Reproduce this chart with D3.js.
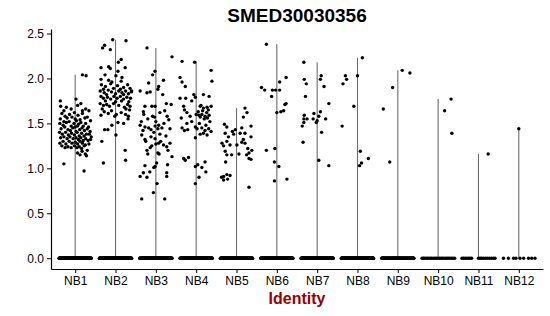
<!DOCTYPE html>
<html>
<head>
<meta charset="utf-8">
<script src="https://cdn.jsdelivr.net/npm/d3@7"></script>
<style>
  body { margin: 0; background: #fff; }
  text { font-family: "Liberation Sans", Arial, sans-serif; }
</style>
</head>
<body>
<script>
var width = 550;
var height = 316;

var title = "SMED30030356";
var xLabel = "Identity";
var categories = ["NB1", "NB2", "NB3", "NB4", "NB5", "NB6", "NB7", "NB8", "NB9", "NB10", "NB11", "NB12"];
var yTicks = [0, 0.5, 1, 1.5, 2, 2.5];

// expressing cells: [jitter (fraction of a category step), expression]
var nb1 = [
    [0.18,2.04],[0.27,2.03],[0.02,1.77],[-0.37,1.75],[-0.36,1.69],[-0.22,1.68],[-0.1,1.66],[0.06,1.7],
    [0.14,1.72],[0.26,1.66],[0.34,1.64],[-0.28,1.64],[0.18,1.64],
    [-0.33,1.61],[-0.25,1.58],[-0.14,1.60],[-0.02,1.62],[0.07,1.59],[0.18,1.61],[0.3,1.57],[-0.37,1.55],
    [-0.2,1.56],[-0.08,1.57],[0.12,1.54],[0.24,1.56],[0.38,1.53],[0.0,1.55],[-0.28,1.52],
    [-0.38,1.50],[-0.3,1.48],[-0.22,1.51],[-0.15,1.52],[-0.1,1.47],[-0.03,1.50],[0.03,1.53],[0.08,1.49],
    [0.14,1.51],[0.2,1.47],[0.26,1.50],[0.33,1.46],[-0.35,1.44],[-0.26,1.46],[-0.18,1.43],[-0.06,1.45],
    [0.0,1.46],[0.06,1.47],[0.11,1.43],[0.17,1.45],[0.23,1.42],[0.3,1.44],[0.37,1.41],[-0.12,1.42],[0.02,1.41],
    [-0.39,1.40],[-0.32,1.38],[-0.24,1.40],[-0.17,1.37],[-0.09,1.39],[-0.02,1.37],[0.05,1.40],[0.1,1.36],
    [0.16,1.39],[0.22,1.36],[0.28,1.38],[0.35,1.38],[0.4,1.35],[-0.36,1.34],[-0.28,1.35],[-0.2,1.33],
    [-0.13,1.35],[-0.05,1.33],[0.02,1.34],[0.08,1.32],[0.14,1.34],[0.2,1.31],[0.26,1.33],[0.32,1.31],[0.38,1.32],
    [-0.38,1.28],[-0.3,1.30],[-0.23,1.27],[-0.15,1.30],[-0.08,1.28],[0.0,1.29],[0.06,1.27],[0.12,1.30],
    [0.18,1.28],[0.25,1.26],[0.34,1.27],[-0.33,1.25],[-0.18,1.24],[-0.1,1.23],[-0.02,1.25],[0.04,1.23],
    [0.1,1.24],[0.16,1.22],[0.22,1.25],[-0.25,1.23],
    [0.06,1.17],[0.12,1.15],[0.17,1.19],[0.25,1.16],[0.28,1.14],[-0.28,1.05],[0.22,0.97],[0.3,1.2]
];
var nb2 = [
    [-0.07,2.43],[0.26,2.42],[-0.27,2.37],[-0.32,2.34],[-0.13,2.32],[0.14,2.21],[0.07,2.18],[-0.36,2.12],
    [-0.17,2.13],[-0.13,2.11],[0.24,2.12],[0.06,2.08],[-0.26,2.04],[0.01,2.03],[0.16,2.01],[-0.36,1.99],
    [-0.17,1.98],[-0.09,1.96],[0.14,1.97],[0.4,1.86],
    [-0.35,1.93],[-0.25,1.91],[-0.12,1.94],[0.05,1.92],[0.2,1.9],[0.3,1.93],[-0.3,1.88],[-0.05,1.89],[0.12,1.88],[0.36,1.89],
    [-0.38,1.86],[-0.28,1.84],[-0.18,1.87],[-0.1,1.85],[0.0,1.83],[0.08,1.86],[0.16,1.84],[0.25,1.86],
    [0.32,1.83],[0.39,1.85],[-0.22,1.82],[0.2,1.82],
    [-0.36,1.8],[-0.3,1.78],[-0.2,1.79],[-0.12,1.77],[-0.04,1.8],[0.04,1.78],[0.12,1.8],[0.2,1.77],
    [0.28,1.79],[0.37,1.78],[-0.25,1.75],[0.0,1.74],[0.15,1.75],[0.33,1.74],
    [-0.38,1.72],[-0.3,1.7],[-0.22,1.71],[-0.15,1.69],[-0.05,1.72],[0.08,1.7],[0.22,1.68],[0.3,1.71],
    [0.36,1.69],[0.26,1.66],[-0.33,1.66],[0.35,1.65],
    [-0.28,1.63],[-0.18,1.61],[-0.1,1.64],[0.02,1.6],[0.14,1.62],[0.25,1.6],[-0.36,1.59],[0.32,1.58],[-0.02,1.58],
    [0.2,1.50],[0.31,1.55],[0.06,1.51],[-0.27,1.43],[-0.19,1.43],[-0.09,1.48],[0.01,1.37],[-0.34,1.30],
    [0.24,1.20],[-0.3,1.06],[0.25,1.09]
];
var nb3 = [
    [-0.22,2.34],[0.4,2.24],[-0.02,2.08],[-0.08,2.04],[-0.39,1.86],[-0.18,1.95],[0.07,1.91],[0.05,1.88],
    [0.19,1.98],[-0.22,1.84],[-0.14,1.85],[0.17,1.82],[-0.27,1.69],[-0.1,1.69],[-0.02,1.69],[0.26,1.72],
    [0.38,1.71],[-0.31,1.63],[-0.08,1.58],[-0.03,1.57],[0.22,1.64],[-0.36,1.52],[-0.27,1.46],[-0.18,1.45],
    [-0.12,1.43],[-0.02,1.47],[0.07,1.48],[0.15,1.45],[0.32,1.54],[-0.35,1.37],[-0.27,1.32],[-0.12,1.35],
    [-0.02,1.33],[0.07,1.28],[0.19,1.26],[0.27,1.24],[0.35,1.28],[-0.22,1.20],[-0.14,1.23],[0.05,1.17],
    [0.4,1.13],[-0.27,1.03],[-0.02,1.02],[-0.31,0.95],[-0.39,0.91],[-0.22,0.90],[0.27,0.95],[0.27,0.91],
    [-0.06,0.73],[-0.35,0.66],[0.22,0.66],[-0.15,0.96],[0.02,1.06],[0.03,0.83],[0.29,1.04],[0.08,1.16],
    [-0.2,1.16],[-0.05,1.01],[-0.39,1.48],
    [-0.3,1.6],[0.1,1.62],[0.28,1.58],[-0.2,1.55],[0.0,1.52],[0.2,1.5],[0.35,1.44],[-0.05,1.4],[0.1,1.38],
    [0.25,1.36],[-0.25,1.3],[0.0,1.27],[0.3,1.2],[-0.1,1.25],[0.12,1.3],[-0.32,1.42],[0.05,1.44]
];
var nb4 = [
    [-0.35,2.19],[-0.04,2.18],[0.37,2.09],[-0.4,2.01],[0.39,1.97],[-0.35,1.96],[-0.27,1.91],[-0.4,1.78],
    [-0.26,1.78],[-0.11,1.75],[-0.02,1.79],[-0.06,1.82],[0.18,1.82],[0.32,1.80],[-0.31,1.69],[-0.29,1.65],
    [0.1,1.69],[0.18,1.67],[0.27,1.68],[0.37,1.69],[-0.37,1.56],[-0.23,1.62],[0.05,1.63],[0.07,1.59],
    [0.14,1.60],[0.22,1.58],[0.32,1.59],[-0.23,1.50],[-0.11,1.52],[-0.02,1.46],[0.02,1.44],[-0.35,1.45],
    [-0.29,1.42],[-0.21,1.43],[0.14,1.45],[0.22,1.42],[0.31,1.44],[0.37,1.41],[-0.02,1.34],[0.1,1.38],
    [0.18,1.39],[0.27,1.37],[-0.31,1.11],[-0.19,1.12],[-0.27,1.09],[-0.02,1.02],[0.04,1.04],[0.14,1.01],
    [0.22,1.07],[0.24,0.96],[0.07,0.90],[-0.02,0.83],
    [0.2,1.55],[0.26,1.62],[0.1,1.57],[0.3,1.65],[0.16,1.64],[0.34,1.52],[0.24,1.48],[0.08,1.5],
    [-0.15,1.58],[0.0,1.6],[0.12,1.7],[0.28,1.56]
];
var nb5 = [
    [0.21,1.67],[0.26,1.62],[0.17,1.57],[-0.3,1.49],[-0.24,1.46],[0.36,1.47],[-0.03,1.43],[-0.1,1.41],
    [-0.07,1.38],[0.13,1.45],[0.09,1.39],[0.21,1.39],[-0.28,1.39],[-0.2,1.35],[-0.36,1.28],[-0.24,1.30],
    [-0.32,1.25],[-0.16,1.26],[0.01,1.26],[0.17,1.32],[0.13,1.29],[0.21,1.28],[0.36,1.35],[0.28,1.22],
    [0.38,1.20],[0.31,1.17],[0.36,1.10],[-0.28,1.19],[-0.24,1.15],[-0.12,1.15],[0.06,1.16],[-0.32,0.91],
    [-0.24,0.93],[-0.16,0.92],[-0.22,0.88],[0.31,0.79],[-0.37,0.90],[-0.32,0.87],[-0.27,1.07],[0.31,1.11],
    [0.25,1.15]
];
var nb6 = [
    [-0.26,2.38],[-0.38,1.90],[-0.3,1.87],[-0.11,1.87],[-0.03,1.87],[0.07,1.87],[-0.13,1.80],[0.07,1.96],
    [0.23,2.01],[0.2,1.71],[0.23,1.72],[0.17,1.64],[0.1,1.63],[0.0,1.62],[-0.26,1.20],[-0.05,1.22],
    [-0.06,1.07],[0.05,1.02],[-0.06,0.86],[0.25,0.88]
];
var nb7 = [
    [-0.33,2.18],[-0.32,1.99],[-0.27,1.94],[0.1,2.03],[0.08,1.99],[0.17,1.91],[-0.29,1.80],[0.29,1.72],
    [-0.32,1.59],[-0.33,1.55],[-0.25,1.55],[-0.37,1.47],[-0.33,1.51],[-0.08,1.61],[-0.1,1.55],[0.0,1.53],
    [0.08,1.63],[0.04,1.58],[-0.02,1.51],[0.21,1.55],[0.11,1.40],[-0.35,1.29],[0.04,1.09],[0.29,1.03]
];
var nb8 = [
    [0.12,2.23],[0.0,2.03],[-0.3,2.03],[-0.27,1.99],[-0.36,1.94],[-0.09,1.69],[-0.38,1.47],[0.07,1.19],
    [0.27,1.11],[0.1,1.06],[0.05,1.03]
];
var nb9 = [[0.11,2.09],[0.3,2.06],[-0.13,1.90],[-0.36,1.66],[-0.2,1.07]];
var nb10 = [[0.32,1.77],[0.16,1.64],[0.34,1.39]];
var nb11 = [[0.24,1.16]];
var nb12 = [[0.0,1.44]];
var expressing = [nb1, nb2, nb3, nb4, nb5, nb6, nb7, nb8, nb9, nb10, nb11, nb12];

// non-expressing cells (value 0): how many per group, or their jitter where they are sparse
var zeroCounts = [160, 160, 160, 160, 140, 140, 140, 140, 110];
var nb10Zeros = [-0.4,-0.37,-0.34,-0.3,-0.27,-0.23,-0.19,-0.16,-0.12,-0.08,-0.05,-0.01,0.03,0.07,0.1,0.14,0.18,0.22,0.25,0.29,0.33,0.37,0.41];
var nb11Zeros = [-0.41,-0.37,-0.33,-0.29,-0.25,-0.21,-0.17,0.0,0.04,0.08,0.12,0.17,0.22,0.27,0.32,0.37,0.41];
var nb12Zeros = [-0.38,-0.26,-0.13,-0.07,0.03,0.12,0.24,0.32,0.40];

var svg = d3.select("body").append("svg").attr("width", width).attr("height", height);

var x = d3.scalePoint().domain(categories).range([51, 543]).padding(0.6);
var y = d3.scaleLinear().domain([-0.12, 2.55]).range([269, 29]);
var step = x.step();

var points = [];
categories.forEach(function (c, i) {
    var zeros;
    if (i < zeroCounts.length) {
        var n = zeroCounts[i];
        zeros = d3.range(n).map(function (k) { return -0.4 + 0.8 * k / (n - 1); });
    } else {
        zeros = [nb10Zeros, nb11Zeros, nb12Zeros][i - zeroCounts.length];
    }
    zeros.forEach(function (j) { points.push({cat: c, jitter: j, value: 0}); });
    expressing[i].forEach(function (d) { points.push({cat: c, jitter: d[0], value: d[1]}); });
});

// violins collapse into thin lines from 0 to the group max
svg.append("g").selectAll("line")
    .data(categories)
    .enter().append("line")
    .attr("x1", function (c) { return x(c); })
    .attr("x2", function (c) { return x(c); })
    .attr("y1", y(0))
    .attr("y2", function (c, i) { return y(d3.max(expressing[i], function (d) { return d[1]; })); })
    .attr("stroke", "#6e6e6e")
    .attr("stroke-width", 1.1);

svg.append("g").selectAll("circle")
    .data(points)
    .enter().append("circle")
    .attr("cx", function (d) { return x(d.cat) + d.jitter * step; })
    .attr("cy", function (d) { return y(d.value); })
    .attr("r", 1.7)
    .attr("fill", "#000");

var yAxis = svg.append("g")
    .attr("transform", "translate(51,0)")
    .call(d3.axisLeft(y).tickValues(yTicks).tickFormat(d3.format(".1f")).tickSize(4).tickSizeOuter(0));
var xAxis = svg.append("g")
    .attr("transform", "translate(0,269)")
    .call(d3.axisBottom(x).tickSize(4).tickSizeOuter(0));

[xAxis, yAxis].forEach(function (a) {
    a.select(".domain").attr("stroke", "#000").attr("stroke-width", 1.2);
    a.selectAll(".tick line").attr("stroke", "#000").attr("stroke-width", 1);
    a.selectAll(".tick text").attr("fill", "#000").style("font-size", "12px")
        .style("font-family", "'Liberation Sans', Arial, sans-serif");
});
yAxis.selectAll(".tick text").attr("x", -7).attr("dy", "0.34em");
xAxis.selectAll(".tick text").attr("y", 7).attr("dy", "0.74em");

svg.append("text")
    .attr("x", 297).attr("y", 22)
    .attr("text-anchor", "middle")
    .style("font-size", "19px").style("font-weight", "bold")
    .text(title);

svg.append("text")
    .attr("x", 297).attr("y", 304)
    .attr("text-anchor", "middle")
    .attr("fill", "#9b0000")
    .style("font-size", "16px").style("font-weight", "bold")
    .text(xLabel);
</script>
</body>
</html>
